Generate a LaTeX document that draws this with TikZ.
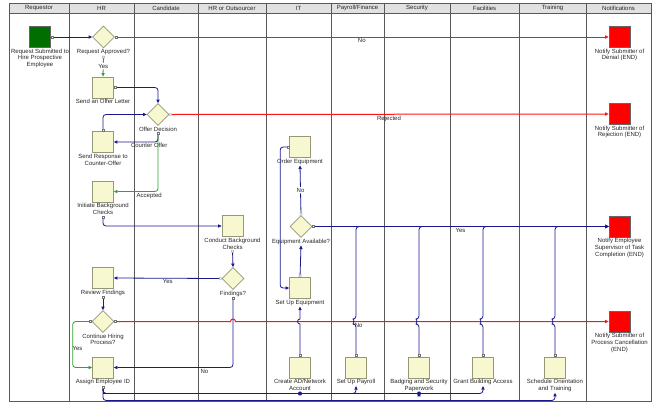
\documentclass[tikz,border=0pt]{standalone}
\usepackage{fontspec}
\setmainfont{Liberation Sans}
\usepackage{xcolor}
\usepackage{tikz}
\usetikzlibrary{arrows.meta,positioning,shapes.geometric,calc}

\definecolor{flowblue}{RGB}{25,25,140}
\definecolor{flowred}{RGB}{255,20,20}
\definecolor{flowgreen}{RGB}{50,160,50}
\definecolor{taskfill}{RGB}{248,248,208}
\definecolor{taskline}{RGB}{150,150,120}
\definecolor{startgreen}{RGB}{0,110,0}
\definecolor{headgray}{RGB}{225,225,225}

\begin{document}
\begin{tikzpicture}[
  x=1pt, y=1pt,
  font=\fontsize{6}{6.8}\selectfont,
  task/.style={draw=taskline, fill=taskfill, line width=0.7pt, minimum size=21pt, inner sep=0pt},
  gate/.style={diamond, draw=taskline, fill=taskfill, line width=0.6pt, minimum width=22pt, minimum height=22pt, inner sep=0pt},
  startbox/.style={draw=black!60, fill=startgreen, line width=0.6pt, minimum size=21pt, inner sep=0pt},
  endbox/.style={draw=black!60, fill=red, line width=0.6pt, minimum size=21pt, inner sep=0pt},
  lbl/.style={align=center, inner sep=0.8pt, text=black!85},
  elbl/.style={inner sep=1pt, text=black!85},
  flow/.style={draw=flowblue, line width=0.8pt, rounded corners=3pt,
    {Square[length=2.4pt, width=2.4pt, color=black!55, fill=white, line width=0.4pt]}-{Triangle[length=3.6pt, width=3.2pt]}},
  yesflow/.style={flow, draw=flowgreen},
  noflow/.style={flow, draw=flowred, line width=1pt},
  lane/.style={draw=black!65, line width=0.6pt},
]
\useasboundingbox (0,0) rectangle (660,-416);

% swimlanes
\fill[headgray] (9,-3) rectangle (651,-13);
\foreach \x in {9,69,134,198,266,331,384,450,519,586,651}
  \draw[lane] (\x,-3) -- (\x,-401.5);
\draw[lane] (9,-3) -- (651,-3) (9,-13) -- (651,-13) (9,-401.5) -- (651,-401.5);
\foreach \a/\b/\t [count=\i] in {9/69/Requestor, 69/134/HR, 134/198/Candidate, 198/266/HR or Outsourcer,
    266/331/IT, 331/384/Payroll\slash Finance, 384/450/Security, 450/519/Facilities, 519/586/Training, 586/651/Notifications}
  \node[elbl] (head\i) at ({(\a+\b)/2},-8) {\t};

% tasks and gates
\node[startbox, label={[lbl,name=reql]below:Request Submitted to\\Hire Prospective\\Employee}] (req) at (40,-37) {};
\node[gate, label={[lbl,name=apprl]below:Request Approved?}] (appr) at (103.5,-37) {};
\node[task, label={[lbl,name=offerl]below:Send an Offer Letter}] (offer) at (103,-87.5) {};
\node[gate, label={[lbl,name=odecl]below:Offer Decision}] (odec) at (158,-114.5) {};
\node[task, label={[lbl,name=crespl]below:Send Response to\\Counter-Offer}] (cresp) at (103,-142) {};
\node[task, label={[lbl,name=initbgl]below:Initiate Background\\Checks}] (initbg) at (103,-191.5) {};
\node[task, label={[lbl,name=reviewl]below:Review Findings}] (review) at (103,-278) {};
\node[gate, label={[lbl,name=contl]below:Continue Hiring\\Process?}] (cont) at (103,-321.5) {};
\node[task, label={[lbl,name=assignl]below:Assign Employee ID}] (assign) at (103,-367.5) {};
\node[task, label={[lbl,name=condbgl]below:Conduct Background\\Checks}] (condbg) at (232.5,-226) {};
\node[gate, label={[lbl,name=findl]below:Findings?}] (find) at (233,-278.5) {};
\node[task, label={[lbl,name=ordeql]below:Order Equipment}] (ordeq) at (300,-147) {};
\node[gate, label={[lbl,name=eqavl]below:Equipment Available?}] (eqav) at (301,-226.5) {};
\node[task, label={[lbl,name=seteql]below:Set Up Equipment}] (seteq) at (300,-288) {};
\node[task, label={[lbl,name=adaccl]below:Create AD/Network\\Account}] (adacc) at (300,-367.5) {};
\node[task, label={[lbl,name=payrolll]below:Set Up Payroll}] (payroll) at (356,-367.5) {};
\node[task, label={[lbl,name=badgel]below:Badging and Security\\Paperwork}] (badge) at (419,-367.5) {};
\node[task, label={[lbl,name=accessl]below:Grant Building Access}] (access) at (483,-367.5) {};
\node[task, label={[lbl,name=orientl]below:Schedule Orientation\\and Training}] (orient) at (555,-367.5) {};
\node[endbox, label={[lbl,name=ndenyl]below:Notify Submitter of\\Denial (END)}] (ndeny) at (619.5,-37) {};
\node[endbox, label={[lbl,name=nrejectl]below:Notify Submitter of\\Rejection (END)}] (nreject) at (619.5,-114) {};
\node[endbox, label={[lbl,name=nsuperl]below:Notify Employee\\Supervisor of Task\\Completion (END)}] (nsuper) at (619.5,-226.5) {};
\node[endbox, label={[lbl,name=ncancell]below:Notify Submitter of\\Process Cancellation\\(END)}] (ncancel) at (619.5,-321.5) {};

% connectors
\draw[flow] (req.east) -- (appr.west);
\draw[noflow] (appr.east) -- node[elbl, below] {No} (ndeny.west);
\draw[yesflow] (apprl.south) -- node[elbl, fill=white] {Yes} (offer.north);
\draw[flow] (offer.east) -| (odec.north);
\draw[noflow] (odec.east) -- node[elbl, below] {Rejected} (nreject.west);
\draw[yesflow] (odecl.south) |- node[elbl, below, pos=.6] {Accepted} (initbg.east);
\draw[flow] (odecl.south) |- node[elbl, below, pos=.6] {Counter Offer} (cresp.east);
\draw[flow] (cresp.north) |- (odec.west);
\draw[flow] (initbgl.south) |- (condbg.west);
\draw[flow] (condbgl.south) -- (find.north);
\draw[flow] (find.west) -- node[elbl, below] {Yes} (review.east);
\draw[flow] (findl.south) |- node[elbl, below, pos=.62] {No} (assign.east);
\draw[flow] (reviewl.south) -- (cont.north);
\draw[yesflow] (cont.west) -- ++(-19,0) |- node[elbl, pos=.29, right, xshift=-1.5pt] {Yes} (assign.west);

% line jumps over the cancellation line
\coordinate (jy) at (cont.east);
\draw[noflow, sharp corners] (cont.east) -- ($(findl.south |- jy)+(-2.5,0)$) arc[start angle=180, end angle=0, radius=2.5]
  -- node[elbl, below, pos=.33] {No} (ncancel.west);
\draw[flow, sharp corners] (adacc.north) -- ($(adacc.north |- jy)+(0,-2.5)$) arc[start angle=270, end angle=90, radius=2.5] -- (seteql.south);
\foreach \n in {payroll,badge,access,orient}
  \draw[flow] (\n.north) -- ($(\n.north |- jy)+(0,-2.5)$) arc[start angle=270, end angle=90, radius=2.5] |- (nsuper.west);

\draw[flow] (seteq.north) -- (eqavl.south);
\draw[flow] (eqav.north) -- node[elbl, fill=white] {No} (ordeql.south);
\draw[flow] (ordeq.west) -- ++(-9,0) |- (seteq.west);
\draw[flow] (eqav.east) -- node[elbl, below] {Yes} (nsuper.west);

% bus from Assign Employee ID
\coordinate (bus1) at ($(assignl.south)+(0,-7.5)$);
\coordinate (bus2) at ($(assignl.south)+(0,-14.5)$);
\foreach \n in {payrolll,accessl}
  \draw[flow] (assignl.south) -- (bus1) -| (\n.south);
\foreach \n in {adaccl,badgel}
  \draw[flow, sharp corners] (assignl.south) -- (bus1) -| (\n.south);
\draw[flow] (assignl.south) -- (bus2) -| (orientl.south);
\fill[flowblue] (adaccl.south |- bus1) circle (2pt) (badgel.south |- bus1) circle (2pt);
\end{tikzpicture}
\end{document}
